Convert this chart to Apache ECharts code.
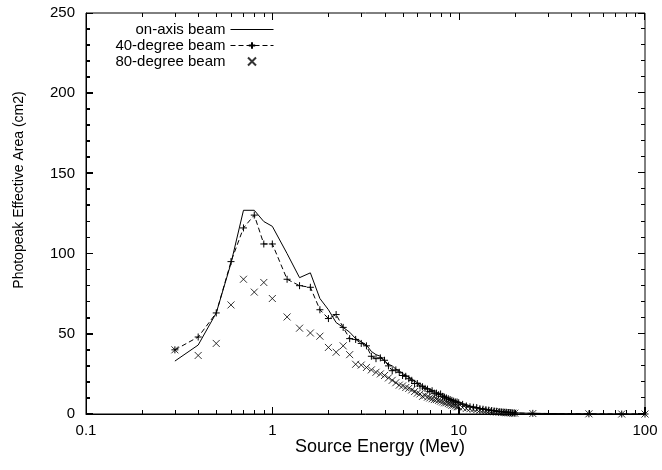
<!DOCTYPE html>
<html><head><meta charset="utf-8">
<script src="https://cdn.jsdelivr.net/npm/echarts@6/dist/echarts.min.js"></script>
<style>html,body{margin:0;padding:0;background:#fff}#c{width:662px;height:470px}</style>
</head><body><div id="c"></div>
<script>
// ---- data ----
const energy = [0.3,0.4,0.5,0.6,0.7,0.8,0.9,1.0,1.2,1.4,1.6,1.8,
  2.0,2.2,2.4,2.6,2.8,3.0,3.2,3.4,3.6,3.8,
  4.0,4.2,4.4,4.6,4.8,5.0,5.2,5.4,5.6,5.8,
  6.0,6.2,6.4,6.6,6.8,7.0,7.2,7.4,7.6,7.8,
  8.0,8.2,8.4,8.6,8.8,9.0,9.2,9.4,9.6,9.8,
  10.0,10.5,11,11.5,12,12.5,13,13.5,14,14.5,
  15,15.5,16,16.5,17,17.5,18,18.5,19,19.5,
  20,25,50,75,100];
const onAxis = [33,43,63,94,127,127,120,117,100,85,88,72,
  65,57,54,51,47,45,43,39,37,36,
  33,31,30,28,27,25,24.5,23,22,20.5,
  19.5,19,17.5,17,16,15.5,15,14,13.5,13,
  12,11.5,11.5,10.5,10,9.5,9,8.5,8.5,8,
  7.5,6.5,6,5,4.5,4,3.5,3.3,3,2.6,
  2.3,2,1.9,1.6,1.4,1.3,1.2,1,0.9,0.8,
  0.7,0.4,0.1,0,0];
const deg40 = [40,48,63,95,116,124,106,106,84,80,79,65,
  59.5,62,54,47,46.5,44,42.5,36,34.5,35,
  33.5,30,27,27.5,26,24,23.5,22,21,19,
  19,17.5,17,16,15.5,14,14.5,13,13,12,
  12.5,11,10.5,10,9.5,9,8.5,8,7.5,7.5,
  7,6,5,4.5,4.2,4,3.3,3,2.7,2.4,
  2.1,1.9,1.7,1.5,1.3,1.2,1.1,0.9,0.8,0.7,
  0.6,0.4,0.1,0,0];
const deg80 = [40,36.5,44,68,84,76,82,72,60.5,53.5,50.5,48.5,
  41.5,38.5,42.5,37,31,30.5,29,27.5,26,25,
  24,22.5,21,19.5,18,17.5,16.5,16,15,14,
  13,12.5,11,11.5,10.5,10,9.5,9,9,8.5,
  8,7.5,7,7,6.5,6,5.5,5.5,5,4.5,
  4.5,4,3.5,3.3,3,2.7,2.4,2.2,2,1.8,
  1.6,1.4,1.2,1.1,1,0.9,0.8,0.7,0.6,0.5,
  0.5,0.3,0.1,0,0];
const seriesNames = ['on-axis beam','40-degree beam','80-degree beam'];
const xMajorTicks = [0.1, 1, 10, 100];
const xMinorTicks = [0.2,0.3,0.4,0.5,0.6,0.7,0.8,0.9,2,3,4,5,6,7,8,9,20,30,40,50,60,70,80,90];
const yMajorTicks = [0, 50, 100, 150, 200, 250];
const yMinorTicks = [10,20,30,40,60,70,80,90,110,120,130,140,160,170,180,190,210,220,230,240];
const xTitle = 'Source Energy (Mev)';
const yTitle = 'Photopeak Effective Area (cm2)';

// ---- chart ----
const FONT = '"Liberation Sans", Arial, Helvetica, sans-serif';
const plusPath = 'path://M0,5L10,5M5,0L5,10';
const crossPath = 'path://M0,0L10,10M10,0L0,10';
const pair = (ys) => energy.map((e, i) => [e, ys[i]]);
const xMin = 0.1, xMax = 100, yMin = 0, yMax = 250;

// inward tick marks on all four frame sides, placed through the axes' scales
function tickSeries(name, data, dx, dy) {
  return {
    name: name, type: 'custom', data: data, z: 6, clip: false,
    renderItem: function (params, api) {
      const p = api.coord([api.value(0), api.value(1)]);
      let x = p[0], y = p[1];
      if (dx === 0) x = Math.round(x) + 0.5 - (x > 600 ? 1 : 0);
      if (dy === 0) y = Math.round(y) - 0.5 + (y < 20 ? 1 : 0);
      return {type: 'line', shape: {x1: x, y1: y, x2: x + dx, y2: y + dy},
              style: {stroke: '#000', lineWidth: 1}};
    }
  };
}

const chart = echarts.init(document.getElementById('c'));
chart.setOption({
  animation: false,
  grid: {left: 86, right: 17, top: 13, bottom: 56, show: true,
         borderColor: '#000', borderWidth: 1, backgroundColor: 'transparent'},
  xAxis: {type: 'log', logBase: 10, min: xMin, max: xMax,
    axisLine: {show: true, lineStyle: {color: '#000', width: 1}},
    splitLine: {show: false},
    axisTick: {show: true, inside: true, length: 7, lineStyle: {color: '#000', width: 1}},
    axisLabel: {color: '#000', fontFamily: FONT, fontSize: 15, margin: 9}},
  yAxis: {type: 'value', min: yMin, max: yMax, interval: 50,
    axisLine: {show: true, lineStyle: {color: '#000', width: 1}},
    splitLine: {show: false},
    axisTick: {show: true, inside: true, length: 7, lineStyle: {color: '#000', width: 1}},
    minorTick: {show: true, splitNumber: 5, length: 4, lineStyle: {color: '#000', width: 1}},
    axisLabel: {color: '#000', fontFamily: FONT, fontSize: 15, margin: 11}},
  legend: {
    orient: 'vertical', align: 'right', right: 388, top: 22, padding: 0,
    itemGap: 1, itemWidth: 43, itemHeight: 8, selectedMode: false,
    textStyle: {color: '#000', fontFamily: FONT, fontSize: 15},
    lineStyle: {width: 1},
    data: seriesNames
  },
  graphic: [
    {type: 'text', x: 380, y: 447,
     style: {text: xTitle, fontFamily: FONT, fontSize: 18, fill: '#000', align: 'center', verticalAlign: 'middle'}},
    {type: 'text', x: 19, y: 190, rotation: Math.PI / 2,
     style: {text: yTitle, fontFamily: FONT, fontSize: 14, fill: '#000', align: 'center', verticalAlign: 'middle'}}
  ],
  series: [
    tickSeries('xmaj-b', xMajorTicks.map(v => [v, yMin]), 0, -7),
    tickSeries('xmaj-t', xMajorTicks.map(v => [v, yMax]), 0, 7),
    tickSeries('xmin-b', xMinorTicks.map(v => [v, yMin]), 0, -4),
    tickSeries('xmin-t', xMinorTicks.map(v => [v, yMax]), 0, 4),
    tickSeries('ymaj-l', yMajorTicks.map(v => [xMin, v]), 7, 0),
    tickSeries('ymaj-r', yMajorTicks.map(v => [xMax, v]), -7, 0),
    tickSeries('ymin-l', yMinorTicks.map(v => [xMin, v]), 4, 0),
    tickSeries('ymin-r', yMinorTicks.map(v => [xMax, v]), -4, 0),
    {name: seriesNames[0], type: 'line', data: pair(onAxis), symbol: plusPath, showSymbol: false,
     lineStyle: {color: '#000', width: 1}, itemStyle: {color: '#000', borderWidth: 0}, z: 3},
    {name: seriesNames[1], type: 'line', data: pair(deg40), symbol: plusPath, symbolSize: 7,
     showSymbol: true, symbolKeepAspect: true,
     lineStyle: {color: '#000', width: 1, type: [5, 3]},
     itemStyle: {color: '#000', borderColor: '#000', borderWidth: 1}, z: 3},
    {name: seriesNames[2], type: 'scatter', data: pair(deg80), symbol: crossPath, symbolSize: 7,
     symbolKeepAspect: true,
     itemStyle: {color: '#000', borderColor: '#000', borderWidth: 1}, z: 3}
  ]
});
</script>
</body></html>
